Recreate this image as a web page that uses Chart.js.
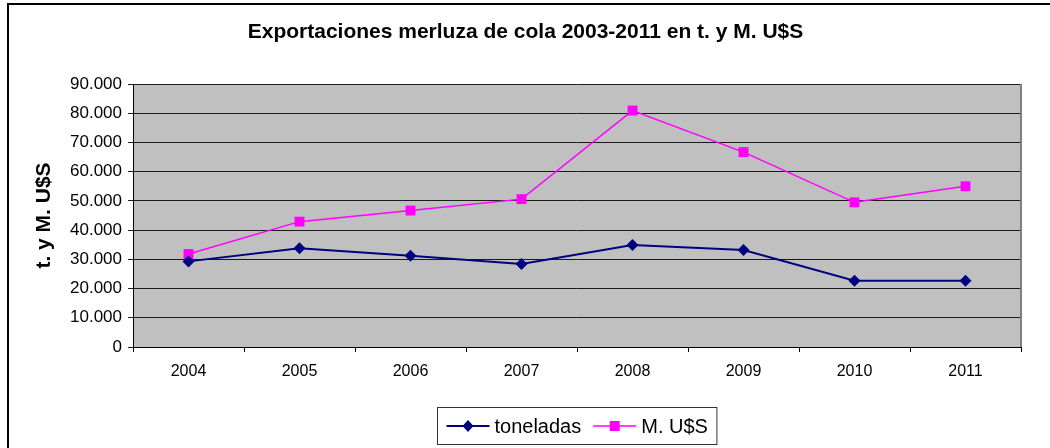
<!DOCTYPE html>
<html lang="es">
<head>
  <meta charset="UTF-8" />
  <title>Exportaciones merluza de cola</title>
  <style>
    html, body { margin: 0; padding: 0; background: #fff; }
    #wrap { position: relative; width: 1050px; height: 448px; }
  </style>
  <script src="https://cdn.jsdelivr.net/npm/chart.js"></script>
</head>
<body>
  <div id="wrap"><canvas id="chart"></canvas></div>
  <script>
    // values
    const years = ['2004', '2005', '2006', '2007', '2008', '2009', '2010', '2011'];
    const toneladas = [29300, 33800, 31200, 28400, 34900, 33200, 22700, 22700];
    const millonesUSD = [31800, 42900, 46700, 50600, 80900, 66700, 49500, 55000];
    const yMax = 90000;
    const yStep = 10000;

    const FONT = '"Liberation Sans", Arial, sans-serif';
    const NAVY = '#000080';
    const PINK = '#FF00FF';

    function fmt(v) {
      return String(v).replace(/\B(?=(\d{3})+(?!\d))/g, '.');
    }

    // grey plot background, frame and outer border
    const frame = {
      id: 'frame',
      beforeDraw(chart) {
        const { ctx, chartArea: a } = chart;
        ctx.save();
        ctx.fillStyle = '#C0C0C0';
        ctx.fillRect(a.left, a.top, a.right - a.left, a.bottom - a.top);
        ctx.fillStyle = '#000';
        ctx.fillRect(7, 3, 2, 445);
        ctx.fillRect(7, 3, 1043, 2);
        ctx.restore();
      },
      beforeDatasetsDraw(chart) {
        const { ctx, chartArea: a } = chart;
        ctx.save();
        ctx.strokeStyle = '#808080';
        ctx.lineWidth = 2;
        ctx.beginPath();
        ctx.moveTo(a.right, a.top);
        ctx.lineTo(a.right, a.bottom);
        ctx.stroke();
        ctx.restore();
      }
    };

    function marker(ctx, style, x, y, color) {
      ctx.fillStyle = color;
      ctx.beginPath();
      if (style === 'diamond') {
        ctx.moveTo(x, y - 6);
        ctx.lineTo(x + 5.5, y);
        ctx.lineTo(x, y + 6);
        ctx.lineTo(x - 5.5, y);
        ctx.closePath();
      } else {
        ctx.rect(x - 5, y - 5, 10, 10);
      }
      ctx.fill();
    }

    // legend with line + marker, boxed, like the original
    const boxLegend = {
      id: 'boxLegend',
      afterDraw(chart) {
        const { ctx, chartArea: a } = chart;
        const items = [
          { text: 'toneladas', color: NAVY, style: 'diamond', width: 2 },
          { text: 'M. U$S', color: PINK, style: 'square', width: 1.5 }
        ];
        ctx.save();
        ctx.font = '20px ' + FONT;
        const pad = 9, lineLen = 43, gap = 5, between = 12;
        let total = pad * 2;
        items.forEach((it, i) => {
          it.w = ctx.measureText(it.text).width;
          total += lineLen + gap + it.w + (i ? between : 0);
        });
        const cx = (a.left + a.right) / 2;
        const left = Math.round(cx - total / 2) + 0.5;
        const top = a.bottom + 60.5;
        const h = 37;
        ctx.strokeStyle = '#333';
        ctx.lineWidth = 1;
        ctx.strokeRect(left, top, total, h);
        const midY = top + h / 2;
        let x = left + pad;
        ctx.textBaseline = 'middle';
        items.forEach((it, i) => {
          if (i) x += between;
          ctx.strokeStyle = it.color;
          ctx.lineWidth = it.width;
          ctx.beginPath();
          ctx.moveTo(x, midY);
          ctx.lineTo(x + lineLen, midY);
          ctx.stroke();
          marker(ctx, it.style, x + lineLen / 2, midY, it.color);
          x += lineLen + gap;
          ctx.fillStyle = '#000';
          ctx.fillText(it.text, x, midY + 1);
          x += it.w;
        });
        ctx.restore();
      }
    };

    new Chart(document.getElementById('chart'), {
      type: 'line',
      data: {
        labels: years,
        datasets: [
          {
            label: 'toneladas',
            data: toneladas,
            borderColor: NAVY,
            backgroundColor: NAVY,
            borderWidth: 2,
            pointStyle: 'rectRot',
            pointRadius: 6,
            pointBorderWidth: 0,
            tension: 0
          },
          {
            label: 'M. U$S',
            data: millonesUSD,
            borderColor: PINK,
            backgroundColor: PINK,
            borderWidth: 1.5,
            pointStyle: 'rect',
            pointRadius: 7,
            pointBorderWidth: 0,
            tension: 0
          }
        ]
      },
      options: {
        responsive: true,
        maintainAspectRatio: false,
        animation: false,
        layout: { padding: { left: 30, right: 29, top: 0, bottom: 0 } },
        plugins: {
          legend: { display: false },
          tooltip: { enabled: false },
          title: {
            display: true,
            text: 'Exportaciones merluza de cola 2003-2011 en t. y M. U$S',
            color: '#000',
            font: { family: FONT, size: 21, weight: 'bold' },
            padding: { top: 20, bottom: 38.8 }
          }
        },
        scales: {
          x: {
            offset: true,
            afterFit(axis) { axis.height = 101; },
            grid: {
              offset: true,
              drawOnChartArea: false,
              drawTicks: true,
              tickLength: 5,
              color: '#000'
            },
            border: { display: true, color: '#000', width: 1 },
            ticks: {
              color: '#000',
              padding: 10,
              font: { family: FONT, size: 16 }
            }
          },
          y: {
            min: 0,
            max: yMax,
            afterFit(axis) { axis.width = 103; },
            grid: {
              color: '#1a1a1a',
              drawTicks: true,
              tickLength: 5
            },
            border: { display: true, color: '#000', width: 1 },
            ticks: {
              stepSize: yStep,
              color: '#000',
              padding: 6,
              font: { family: FONT, size: 17 },
              callback: v => fmt(v)
            },
            title: {
              display: true,
              text: 't. y M. U$S',
              color: '#000',
              font: { family: FONT, size: 21, weight: 'bold' },
              padding: { top: 2, bottom: 0 }
            }
          }
        }
      },
      plugins: [frame, boxLegend]
    });
  </script>
</body>
</html>
